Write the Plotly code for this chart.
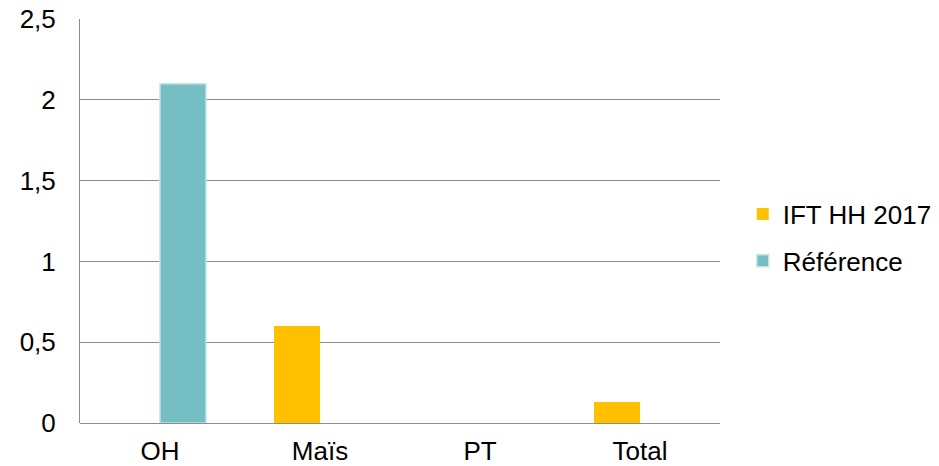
import plotly.graph_objects as go

categories = ["OH", "Maïs", "PT", "Total"]
ift_hh_2017 = [0, 0.6, 0, 0.13]
reference = [2.1, None, None, None]

fig = go.Figure()
fig.add_trace(go.Bar(
    x=categories, y=ift_hh_2017, name="IFT HH 2017",
    marker=dict(color="#FFC000", line=dict(width=0)),
    legendgroup="a",
))
fig.add_trace(go.Bar(
    x=categories, y=reference, name="Référence",
    marker=dict(color="#75BFC4", line=dict(color="#C4E4E6", width=1.5)),
    legendgroup="b",
))

fig.update_layout(
    width=939, height=466,
    margin=dict(l=80, r=219, t=19, b=43),
    paper_bgcolor="white", plot_bgcolor="white",
    barmode="group", bargap=0.425, bargroupgap=0,
    separators=", ",
    font=dict(family="Liberation Sans, Arial", size=26, color="#000000"),
    legend=dict(
        xref="container", yref="container",
        x=0.791, xanchor="left", y=0.49, yanchor="middle",
        traceorder="grouped", tracegroupgap=10,
        font=dict(size=26),
    ),
    xaxis=dict(showgrid=False, ticks="", ticklabelstandoff=10, automargin=False),
    yaxis=dict(
        range=[0, 2.5], dtick=0.5, tickformat=".1~f",
        showgrid=True, gridcolor="#8C8C8C", gridwidth=1,
        showline=True, linecolor="#8C8C8C", linewidth=1,
        zeroline=True, zerolinecolor="#8C8C8C", zerolinewidth=1,
        ticks="", ticklabelstandoff=18, automargin=False,
    ),
)

# page body has a default 8px margin; remove it so the figure sits at 0,0
fig.write_html("out.html", config={"displayModeBar": False},
               post_script="document.body.style.margin='0';")
